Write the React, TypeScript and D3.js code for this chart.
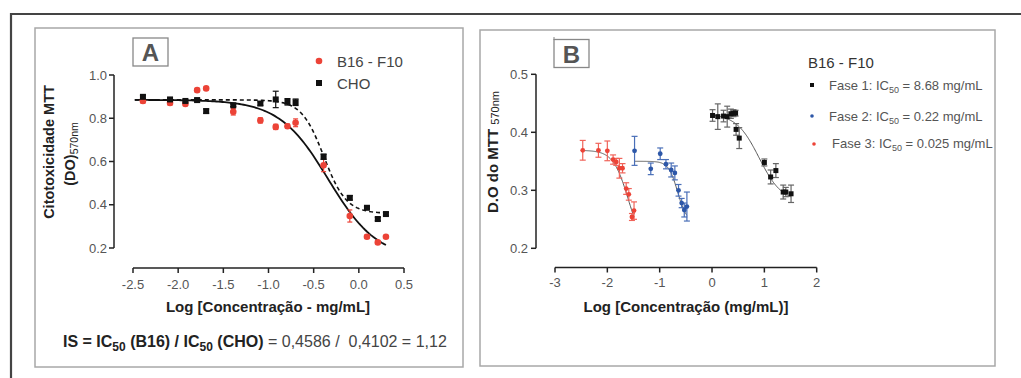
import React from 'react'
import * as d3 from 'd3'

// ---- panel A data (Log concentration, mean DO, sd) ----
const aLogConc = [-2.39, -2.09, -1.92, -1.79, -1.69, -1.39, -1.09, -0.92, -0.79, -0.7, -0.39, -0.1, 0.09, 0.21, 0.3]
const b16Mean = [0.88, 0.871, 0.866, 0.93, 0.938, 0.83, 0.79, 0.76, 0.763, 0.779, 0.583, 0.348, 0.252, 0.226, 0.252]
const b16Err = [0.01, 0.01, 0.008, 0.008, 0.006, 0.015, 0.012, 0.012, 0.01, 0.018, 0.03, 0.028, 0.008, 0.006, 0.005]
const choMean = [0.899, 0.887, 0.88, 0.884, 0.833, 0.86, 0.868, 0.887, 0.876, 0.874, 0.622, 0.432, 0.386, 0.334, 0.357]
const choErr = [0.008, 0.006, 0.005, 0.008, 0.01, 0.006, 0.008, 0.038, 0.015, 0.015, 0.012, 0.01, 0.005, 0.008, 0.008]
// fit params: top, bottom, logIC50, hill
const b16Fit = [0.885, 0.15, -0.338, 1.6]
const choFit = [0.885, 0.36, -0.387, 3.5]
const aTicksX = [-2.5, -2, -1.5, -1, -0.5, 0, 0.5]
const aTicksY = [0.2, 0.4, 0.6, 0.8, 1.0]

// ---- panel B data ----
const f3LogConc = [-2.47, -2.17, -2.0, -1.89, -1.83, -1.77, -1.71, -1.64, -1.59, -1.53, -1.49]
const f3Mean = [0.369, 0.369, 0.368, 0.353, 0.349, 0.338, 0.338, 0.303, 0.293, 0.254, 0.265]
const f3Err = [0.017, 0.012, 0.017, 0.008, 0.006, 0.017, 0.008, 0.01, 0.01, 0.006, 0.015]
const f2LogConc = [-1.48, -1.17, -0.99, -0.88, -0.78, -0.71, -0.64, -0.58, -0.53, -0.48]
const f2Mean = [0.368, 0.337, 0.363, 0.345, 0.335, 0.33, 0.3, 0.278, 0.266, 0.272]
const f2Err = [0.025, 0.01, 0.01, 0.008, 0.012, 0.012, 0.01, 0.008, 0.012, 0.025]
const f1LogConc = [0.01, 0.11, 0.22, 0.29, 0.36, 0.41, 0.45, 0.46, 0.52, 1.0, 1.12, 1.22, 1.36, 1.41, 1.51]
const f1Mean = [0.429, 0.427, 0.428, 0.427, 0.432, 0.433, 0.433, 0.405, 0.39, 0.348, 0.323, 0.334, 0.297, 0.297, 0.294]
const f1Err = [0.01, 0.022, 0.01, 0.018, 0.008, 0.006, 0.005, 0.01, 0.018, 0.006, 0.012, 0.012, 0.012, 0.008, 0.015]
const f3Fit = [0.369, 0.2, -1.6, 3]
const f2Fit = [0.35, 0.245, -0.658, 5]
const f1Fit = [0.432, 0.28, 0.9, 2]
const bTicksX = [-3, -2, -1, 0, 1, 2]
const bTicksY = [0.2, 0.3, 0.4, 0.5]

const FONT = '"Liberation Sans", Arial, sans-serif'
const RED = '#ec4337'
const BLUE = '#2d57a8'

// hyphen instead of the unicode minus, like the original
const fmt1 = (v: number) => d3.format('.1f')(v).replace('\u2212', '-')

const fourPL = (p: number[]) => (x: number) => p[1] + (p[0] - p[1]) / (1 + Math.pow(10, (x - p[2]) * p[3]))

function fitPath(p: number[], x0: number, x1: number, xs: any, ys: any) {
  const pts = d3.range(x0, x1 + 0.0001, (x1 - x0) / 120).map(x => [x, fourPL(p)(x)] as [number, number])
  return d3.line().x(d => xs(d[0])).y(d => ys(d[1]))(pts) || ''
}

function ErrBars({ xs, ys, x, m, e, color, cap }: any) {
  return (
    <g stroke={color} strokeWidth={1.2}>
      {x.map((v: number, i: number) => (
        <g key={i}>
          <line x1={xs(v)} x2={xs(v)} y1={ys(m[i] - e[i])} y2={ys(m[i] + e[i])} />
          <line x1={xs(v) - cap} x2={xs(v) + cap} y1={ys(m[i] - e[i])} y2={ys(m[i] - e[i])} />
          <line x1={xs(v) - cap} x2={xs(v) + cap} y1={ys(m[i] + e[i])} y2={ys(m[i] + e[i])} />
        </g>
      ))}
    </g>
  )
}

function PanelA() {
  const xs = d3.scaleLinear().domain([-2.5, 0.5]).range([133, 404])
  const ys = d3.scaleLinear().domain([0.2, 1.0]).range([248, 75])
  const axY = 268
  const axX = 114
  return (
    <g fontFamily={FONT}>
      <rect x={35} y={28} width={428} height={339} fill="none" stroke="#a8a8a8" strokeWidth={1.5} />
      <rect x={133} y={38} width={35} height={28} fill="none" stroke="#888" strokeWidth={1.3} />
      <text x={150.5} y={61} textAnchor="middle" fontSize={24} fontWeight="bold" fill="#555">A</text>
      {/* axes */}
      <g stroke="#222" strokeWidth={1.5} fill="none">
        <line x1={axX} x2={axX} y1={ys(0.2)} y2={ys(1.0)} />
        {aTicksY.map(t => <line key={t} x1={axX - 5} x2={axX} y1={ys(t)} y2={ys(t)} />)}
        <line x1={xs(-2.5)} x2={xs(0.5)} y1={axY} y2={axY} />
        {aTicksX.map(t => <line key={t} x1={xs(t)} x2={xs(t)} y1={axY} y2={axY + 5} />)}
      </g>
      {aTicksY.map(t => (
        <text key={t} x={axX - 7} y={ys(t) + 4.5} textAnchor="end" fontSize={13} fill="#555">{fmt1(t)}</text>
      ))}
      {aTicksX.map(t => (
        <text key={t} x={xs(t)} y={axY + 21} textAnchor="middle" fontSize={13} fill="#555">{fmt1(t)}</text>
      ))}
      <text x={268} y={312} textAnchor="middle" fontSize={15} fontWeight="bold" fill="#222">Log [Concentração - mg/mL]</text>
      <text transform="translate(54,152) rotate(-90)" textAnchor="middle" fontSize={14.5} fontWeight="bold" fill="#222">Citotoxicidade MTT</text>
      <text transform="translate(75,154) rotate(-90)" textAnchor="middle" fontSize={14.5} fontWeight="bold" fill="#222">
        (DO)<tspan fontSize={10.5} fontWeight="normal" dy={3}>570nm</tspan>
      </text>
      {/* fits */}
      <path d={fitPath(b16Fit, -2.48, 0.3, xs, ys)} fill="none" stroke="#111" strokeWidth={1.8} />
      <path d={fitPath(choFit, -2.48, 0.3, xs, ys)} fill="none" stroke="#111" strokeWidth={1.6} strokeDasharray="4,3" />
      <ErrBars xs={xs} ys={ys} x={aLogConc} m={b16Mean} e={b16Err} color={RED} cap={2.5} />
      <ErrBars xs={xs} ys={ys} x={aLogConc} m={choMean} e={choErr} color="#111" cap={3} />
      {aLogConc.map((v, i) => <circle key={'r' + i} cx={xs(v)} cy={ys(b16Mean[i])} r={3.3} fill={RED} />)}
      {aLogConc.map((v, i) => <rect key={'k' + i} x={xs(v) - 3} y={ys(choMean[i]) - 3} width={6} height={6} fill="#111" />)}
      {/* legend */}
      <circle cx={319} cy={61} r={3.3} fill={RED} />
      <text x={337} y={66.5} fontSize={15} fill="#444">B16 - F10</text>
      <rect x={316} y={80} width={6} height={6} fill="#111" />
      <text x={337} y={88.5} fontSize={15} fill="#444">CHO</text>
      <text x={63} y={347} fontSize={16} fill="#222" style={{ whiteSpace: 'pre' }}>
        <tspan fontWeight="bold">IS = IC</tspan>
        <tspan fontSize={12} fontWeight="bold" dy={4}>50</tspan>
        <tspan fontWeight="bold" dy={-4}> (B16) / IC</tspan>
        <tspan fontSize={12} fontWeight="bold" dy={4}>50</tspan>
        <tspan fontWeight="bold" dy={-4}> (CHO)</tspan>
        <tspan fill="#444">{' = 0,4586 /\u00a0 0,4102 = 1,12'}</tspan>
      </text>
    </g>
  )
}

function PanelB() {
  const xs = d3.scaleLinear().domain([-3, 2]).range([555, 816.7])
  const ys = d3.scaleLinear().domain([0.2, 0.5]).range([248.3, 74.3])
  const axY = 267.5
  const axX = 536
  const lineCol = '#555'
  return (
    <g fontFamily={FONT}>
      <rect x={480} y={30} width={515} height={336} fill="none" stroke="#a8a8a8" strokeWidth={1.5} />
      <rect x={554} y={39.5} width={35} height={28} fill="none" stroke="#888" strokeWidth={1.3} />
      <line x1={554} x2={554} y1={37} y2={40} stroke="#888" strokeWidth={1} />
      <text x={571.5} y={63} textAnchor="middle" fontSize={24} fontWeight="bold" fill="#555">B</text>
      <g stroke="#222" strokeWidth={1.5} fill="none">
        <line x1={axX} x2={axX} y1={ys(0.2)} y2={ys(0.5)} />
        {bTicksY.map(t => <line key={t} x1={axX - 5} x2={axX} y1={ys(t)} y2={ys(t)} />)}
        <line x1={xs(-3)} x2={xs(2)} y1={axY} y2={axY} />
        {bTicksX.map(t => <line key={t} x1={xs(t)} x2={xs(t)} y1={axY} y2={axY + 5} />)}
      </g>
      {bTicksY.map(t => (
        <text key={t} x={axX - 8} y={ys(t) + 4.5} textAnchor="end" fontSize={13} fill="#555">{fmt1(t)}</text>
      ))}
      {bTicksX.map(t => (
        <text key={t} x={xs(t)} y={axY + 19} textAnchor="middle" fontSize={13} fill="#555">{String(t)}</text>
      ))}
      <text x={686} y={312} textAnchor="middle" fontSize={15} fontWeight="bold" fill="#222">Log [Concentração (mg/mL)]</text>
      <text transform="translate(498,152) rotate(-90)" textAnchor="middle" fontSize={15} fontWeight="bold" fill="#222">
        D.O do MTT <tspan fontSize={11} fontWeight="normal" dy={1}>570nm</tspan>
      </text>
      <path d={fitPath(f3Fit, -2.47, -1.49, xs, ys)} fill="none" stroke={lineCol} strokeWidth={1} />
      <path d={fitPath(f2Fit, -1.48, -0.48, xs, ys)} fill="none" stroke={lineCol} strokeWidth={1} />
      <path d={fitPath(f1Fit, 0.01, 1.51, xs, ys)} fill="none" stroke={lineCol} strokeWidth={1} />
      <ErrBars xs={xs} ys={ys} x={f3LogConc} m={f3Mean} e={f3Err} color="#f0645a" cap={3} />
      <ErrBars xs={xs} ys={ys} x={f2LogConc} m={f2Mean} e={f2Err} color="#4a6fb8" cap={3} />
      <ErrBars xs={xs} ys={ys} x={f1LogConc} m={f1Mean} e={f1Err} color="#666" cap={3} />
      {f3LogConc.map((v, i) => <circle key={'r' + i} cx={xs(v)} cy={ys(f3Mean[i])} r={2.4} fill={RED} />)}
      {f2LogConc.map((v, i) => <circle key={'b' + i} cx={xs(v)} cy={ys(f2Mean[i])} r={2.4} fill={BLUE} />)}
      {f1LogConc.map((v, i) => <rect key={'k' + i} x={xs(v) - 2.5} y={ys(f1Mean[i]) - 2.5} width={5} height={5} fill="#111" />)}
      {/* legend */}
      <text x={808} y={68} fontSize={15} fill="#333">B16 - F10</text>
      <rect x={810} y={83} width={4} height={4} fill="#111" />
      <circle cx={812} cy={116} r={1.8} fill={BLUE} />
      <circle cx={814} cy={144} r={1.8} fill={RED} />
      {[['Fase 1: IC', ' = 8.68 mg/mL', 829, 90], ['Fase 2: IC', ' = 0.22 mg/mL', 829, 121], ['Fase 3: IC', ' = 0.025 mg/mL', 832, 148]].map((d: any) => (
        <text key={d[0]} x={d[2]} y={d[3]} fontSize={13} fill="#555">
          {d[0]}<tspan fontSize={9} dy={3}>50</tspan><tspan dy={-3}>{d[1]}</tspan>
        </text>
      ))}
    </g>
  )
}

export default function App() {
  return (
    <svg width={1021} height={378} style={{ position: 'absolute', left: 0, top: 0, background: '#fff' }}>
      <rect width={1021} height={378} fill="#fff" />
      <line x1={11} x2={1021} y1={14} y2={14} stroke="#444" strokeWidth={2.2} />
      <line x1={11} x2={11} y1={13} y2={378} stroke="#444" strokeWidth={2.2} />
      <PanelA />
      <PanelB />
    </svg>
  )
}
